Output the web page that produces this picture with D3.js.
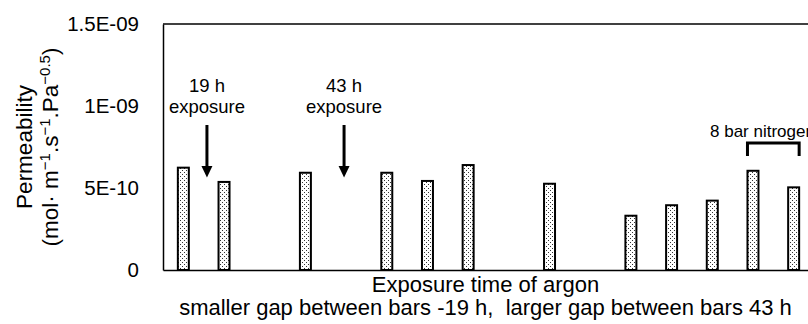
<!DOCTYPE html>
<html>
<head>
<meta charset="utf-8">
<script src="https://cdn.jsdelivr.net/npm/d3@7"></script>
<style>
  body { margin: 0; background: #fff; }
  svg { display: block; font-family: "Liberation Sans", Arial, Helvetica, sans-serif; }
</style>
</head>
<body>
<div id="chart"></div>
<script>
// slots along the x axis (empty slots are the gaps between exposures)
const slots = d3.range(16).map(String);
// permeability per slot, null = gap
const permeability = [6.24e-10, 5.37e-10, null, 5.93e-10, null, 5.93e-10, 5.43e-10, 6.40e-10,
                      null, 5.26e-10, null, 3.31e-10, 3.95e-10, 4.23e-10, 6.05e-10, 5.04e-10];
const yTicks = [0, 5e-10, 1e-9, 1.5e-9];
const yTickLabels = ['0', '5E-10', '1E-09', '1.5E-09'];
// arrows with exposure labels (slot position)
const arrowSlots = [0.58, 3.95];
const arrowLabels = ['19 h', '43 h'];
// bracket for nitrogen runs
const nitrogenSlots = ['14', '15'];

const W = 808, H = 324, m = { t: 24, r: -6, b: 54, l: 163 };

const svg = d3.select('#chart').append('svg').attr('width', W).attr('height', H);

// dotted fill like the spreadsheet pattern
const pat = svg.append('defs').append('pattern')
  .attr('id', 'dots').attr('patternUnits', 'userSpaceOnUse')
  .attr('width', 4).attr('height', 4);
pat.append('rect').attr('width', 4).attr('height', 4).attr('fill', '#fff');
pat.append('rect').attr('x', 0).attr('y', 0).attr('width', 1).attr('height', 1).attr('fill', '#333');
pat.append('rect').attr('x', 2).attr('y', 2).attr('width', 1).attr('height', 1).attr('fill', '#333');

const x = d3.scaleBand().domain(slots).range([m.l, W - m.r]).paddingInner(0.73).paddingOuter(0.365);
const y = d3.scaleLinear().domain([0, 1.5e-9]).range([H - m.b, m.t]);
const xPos = d3.scaleLinear().domain([0, slots.length - 1])
  .range([x(slots[0]) + x.bandwidth() / 2, x(slots[slots.length - 1]) + x.bandwidth() / 2]);

// frame: top line
svg.append('line')
  .attr('x1', m.l).attr('x2', W).attr('y1', y(1.5e-9)).attr('y2', y(1.5e-9))
  .attr('stroke', '#000').attr('stroke-width', 1.5);

// y axis
const yAxis = svg.append('g').attr('transform', `translate(${m.l},0)`)
  .call(d3.axisLeft(y).tickValues(yTicks).tickSize(0).tickPadding(24)
    .tickFormat((d, i) => yTickLabels[i]));
yAxis.select('.domain').attr('stroke', '#000').attr('stroke-width', 1.5);
yAxis.selectAll('text').attr('font-size', 20.5).attr('fill', '#000')
  .attr('font-family', '"Liberation Sans", Arial, sans-serif');

// bars
svg.selectAll('rect.bar').data(slots.filter((s, i) => permeability[i] !== null)).enter()
  .append('rect').attr('class', 'bar')
  .attr('x', d => x(d))
  .attr('y', d => y(permeability[+d]))
  .attr('width', x.bandwidth())
  .attr('height', d => y(0) - y(permeability[+d]))
  .attr('fill', 'url(#dots)')
  .attr('stroke', '#000').attr('stroke-width', 2);

// x axis (no ticks, no labels)
const xAxis = svg.append('g').attr('transform', `translate(0,${y(0)})`)
  .call(d3.axisBottom(x).tickSize(0).tickFormat(''));
xAxis.select('.domain').attr('stroke', '#000').attr('stroke-width', 1.5);

// arrows and labels
arrowSlots.forEach((s, i) => {
  const ax = xPos(s);
  svg.append('line').attr('x1', ax).attr('x2', ax).attr('y1', 125).attr('y2', 167)
    .attr('stroke', '#000').attr('stroke-width', 3);
  svg.append('path').attr('d', `M${ax - 5.5},166 L${ax + 5.5},166 L${ax},177.5 Z`).attr('fill', '#000');
  const t = svg.append('text').attr('x', ax).attr('text-anchor', 'middle')
    .attr('font-size', 18.5).attr('fill', '#000');
  t.append('tspan').attr('x', ax).attr('y', 92).text(arrowLabels[i]);
  t.append('tspan').attr('x', ax).attr('y', 113).text('exposure');
});

// nitrogen bracket
const bx0 = x(nitrogenSlots[0]), bx1 = x(nitrogenSlots[1]) + x.bandwidth();
svg.append('path')
  .attr('d', `M${bx0},156 V143 H${bx1} V156`)
  .attr('fill', 'none').attr('stroke', '#000').attr('stroke-width', 3);
svg.append('text').attr('x', 710).attr('y', 137).attr('font-size', 17).attr('fill', '#000')
  .text('8 bar nitrogen');

// x axis titles
const cx = (m.l + W - m.r) / 2 - 3;
svg.append('text').attr('x', cx).attr('y', 292).attr('text-anchor', 'middle')
  .attr('font-size', 22).attr('fill', '#000').text('Exposure time of argon');
svg.append('text').attr('x', cx).attr('y', 315).attr('text-anchor', 'middle')
  .attr('font-size', 22).attr('fill', '#000').attr('xml:space', 'preserve')
  .text('smaller gap between bars -19 h,  larger gap between bars 43 h');

// y axis title
const cy = (y(0) + y(1.5e-9)) / 2;
svg.append('text').attr('transform', `translate(32,${cy}) rotate(-90)`)
  .attr('text-anchor', 'middle').attr('font-size', 22.5).attr('fill', '#000')
  .text('Permeability');
const yt = svg.append('text').attr('transform', `translate(58,${cy}) rotate(-90)`)
  .attr('text-anchor', 'middle').attr('font-size', 22.5).attr('fill', '#000');
yt.append('tspan').text('(mol\u00b7 m');
yt.append('tspan').attr('font-size', 15).attr('dy', -8).text('\u22121');
yt.append('tspan').attr('dy', 8).text('.s');
yt.append('tspan').attr('font-size', 15).attr('dy', -8).text('\u22121');
yt.append('tspan').attr('dy', 8).text('.Pa');
yt.append('tspan').attr('font-size', 15).attr('dy', -8).text('\u22120.5');
yt.append('tspan').attr('dy', 8).text(')');
</script>
</body>
</html>
